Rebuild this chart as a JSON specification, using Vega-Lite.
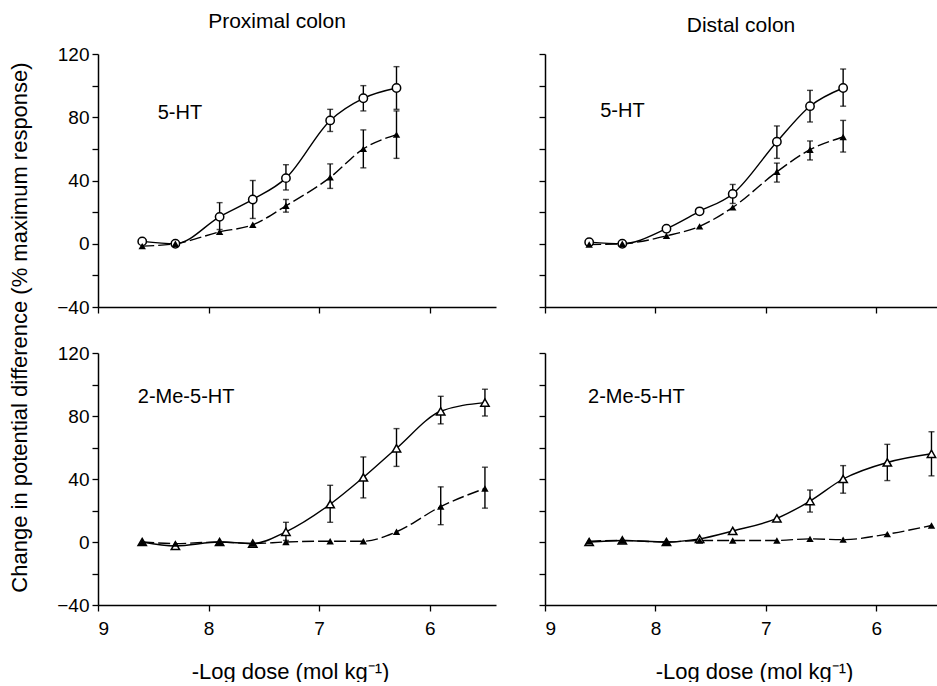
{
  "$schema": "https://vega.github.io/schema/vega-lite/v6.json",
  "background": "white",
  "padding": {"left": 8, "top": 11, "right": 0, "bottom": 0},
  "datasets": {
    "pts": [
      {"panel": "proximal_5HT", "group": "control", "dose": 8.6, "value": 1.5},
      {"panel": "proximal_5HT", "group": "control", "dose": 8.3, "value": 0},
      {"panel": "proximal_5HT", "group": "control", "dose": 7.9, "value": 17, "lo": 9, "hi": 26},
      {"panel": "proximal_5HT", "group": "control", "dose": 7.6, "value": 28, "lo": 16, "hi": 40},
      {"panel": "proximal_5HT", "group": "control", "dose": 7.3, "value": 41.5, "lo": 34, "hi": 50},
      {"panel": "proximal_5HT", "group": "control", "dose": 6.9, "value": 78, "lo": 71, "hi": 85},
      {"panel": "proximal_5HT", "group": "control", "dose": 6.6, "value": 92, "lo": 84, "hi": 100},
      {"panel": "proximal_5HT", "group": "control", "dose": 6.3, "value": 98.5, "lo": 85, "hi": 112},
      {"panel": "proximal_5HT", "group": "treated", "dose": 8.6, "value": -1.5},
      {"panel": "proximal_5HT", "group": "treated", "dose": 8.3, "value": 0},
      {"panel": "proximal_5HT", "group": "treated", "dose": 7.9, "value": 7.5},
      {"panel": "proximal_5HT", "group": "treated", "dose": 7.6, "value": 12},
      {"panel": "proximal_5HT", "group": "treated", "dose": 7.3, "value": 24, "lo": 20, "hi": 28},
      {"panel": "proximal_5HT", "group": "treated", "dose": 6.9, "value": 42, "lo": 35, "hi": 50.5},
      {"panel": "proximal_5HT", "group": "treated", "dose": 6.6, "value": 60, "lo": 48, "hi": 72},
      {"panel": "proximal_5HT", "group": "treated", "dose": 6.3, "value": 69, "lo": 54, "hi": 84},

      {"panel": "distal_5HT", "group": "control", "dose": 8.6, "value": 1},
      {"panel": "distal_5HT", "group": "control", "dose": 8.3, "value": 0},
      {"panel": "distal_5HT", "group": "control", "dose": 7.9, "value": 9.5},
      {"panel": "distal_5HT", "group": "control", "dose": 7.6, "value": 20.5},
      {"panel": "distal_5HT", "group": "control", "dose": 7.3, "value": 31.5, "lo": 25.5, "hi": 37.5},
      {"panel": "distal_5HT", "group": "control", "dose": 6.9, "value": 64.5, "lo": 54, "hi": 74.5},
      {"panel": "distal_5HT", "group": "control", "dose": 6.6, "value": 87, "lo": 77, "hi": 97},
      {"panel": "distal_5HT", "group": "control", "dose": 6.3, "value": 98.5, "lo": 87, "hi": 110.5},
      {"panel": "distal_5HT", "group": "treated", "dose": 8.6, "value": -0.5},
      {"panel": "distal_5HT", "group": "treated", "dose": 8.3, "value": 0},
      {"panel": "distal_5HT", "group": "treated", "dose": 7.9, "value": 5},
      {"panel": "distal_5HT", "group": "treated", "dose": 7.6, "value": 11},
      {"panel": "distal_5HT", "group": "treated", "dose": 7.3, "value": 23},
      {"panel": "distal_5HT", "group": "treated", "dose": 6.9, "value": 45.5, "lo": 39, "hi": 51},
      {"panel": "distal_5HT", "group": "treated", "dose": 6.6, "value": 59.5, "lo": 53, "hi": 65},
      {"panel": "distal_5HT", "group": "treated", "dose": 6.3, "value": 67.5, "lo": 58, "hi": 78},

      {"panel": "proximal_2Me", "group": "control", "dose": 8.6, "value": 0},
      {"panel": "proximal_2Me", "group": "control", "dose": 8.3, "value": -2.5},
      {"panel": "proximal_2Me", "group": "control", "dose": 7.9, "value": 0},
      {"panel": "proximal_2Me", "group": "control", "dose": 7.6, "value": -1},
      {"panel": "proximal_2Me", "group": "control", "dose": 7.3, "value": 6.5, "lo": 1, "hi": 12.5},
      {"panel": "proximal_2Me", "group": "control", "dose": 6.9, "value": 24, "lo": 12.5, "hi": 36},
      {"panel": "proximal_2Me", "group": "control", "dose": 6.6, "value": 41, "lo": 28, "hi": 54},
      {"panel": "proximal_2Me", "group": "control", "dose": 6.3, "value": 59.5, "lo": 48, "hi": 72},
      {"panel": "proximal_2Me", "group": "control", "dose": 5.9, "value": 83, "lo": 75, "hi": 92.5},
      {"panel": "proximal_2Me", "group": "control", "dose": 5.5, "value": 88.5, "lo": 80, "hi": 97},
      {"panel": "proximal_2Me", "group": "treated", "dose": 8.6, "value": 0},
      {"panel": "proximal_2Me", "group": "treated", "dose": 8.3, "value": -1},
      {"panel": "proximal_2Me", "group": "treated", "dose": 7.9, "value": 0},
      {"panel": "proximal_2Me", "group": "treated", "dose": 7.6, "value": -1},
      {"panel": "proximal_2Me", "group": "treated", "dose": 7.3, "value": 0},
      {"panel": "proximal_2Me", "group": "treated", "dose": 6.9, "value": 0.5},
      {"panel": "proximal_2Me", "group": "treated", "dose": 6.6, "value": 0.5},
      {"panel": "proximal_2Me", "group": "treated", "dose": 6.3, "value": 6.5},
      {"panel": "proximal_2Me", "group": "treated", "dose": 5.9, "value": 22.5, "lo": 11, "hi": 35},
      {"panel": "proximal_2Me", "group": "treated", "dose": 5.5, "value": 34, "lo": 21.5, "hi": 47.5},

      {"panel": "distal_2Me", "group": "control", "dose": 8.6, "value": 0},
      {"panel": "distal_2Me", "group": "control", "dose": 8.3, "value": 1},
      {"panel": "distal_2Me", "group": "control", "dose": 7.9, "value": 0},
      {"panel": "distal_2Me", "group": "control", "dose": 7.6, "value": 2},
      {"panel": "distal_2Me", "group": "control", "dose": 7.3, "value": 7},
      {"panel": "distal_2Me", "group": "control", "dose": 6.9, "value": 15},
      {"panel": "distal_2Me", "group": "control", "dose": 6.6, "value": 26, "lo": 19, "hi": 33},
      {"panel": "distal_2Me", "group": "control", "dose": 6.3, "value": 40, "lo": 31, "hi": 48.5},
      {"panel": "distal_2Me", "group": "control", "dose": 5.9, "value": 50.5, "lo": 39, "hi": 62},
      {"panel": "distal_2Me", "group": "control", "dose": 5.5, "value": 56, "lo": 42, "hi": 70},
      {"panel": "distal_2Me", "group": "treated", "dose": 8.6, "value": 0.5},
      {"panel": "distal_2Me", "group": "treated", "dose": 8.3, "value": 1},
      {"panel": "distal_2Me", "group": "treated", "dose": 7.9, "value": 0},
      {"panel": "distal_2Me", "group": "treated", "dose": 7.6, "value": 1},
      {"panel": "distal_2Me", "group": "treated", "dose": 7.3, "value": 1},
      {"panel": "distal_2Me", "group": "treated", "dose": 6.9, "value": 1},
      {"panel": "distal_2Me", "group": "treated", "dose": 6.6, "value": 2},
      {"panel": "distal_2Me", "group": "treated", "dose": 6.3, "value": 1.5},
      {"panel": "distal_2Me", "group": "treated", "dose": 5.9, "value": 5},
      {"panel": "distal_2Me", "group": "treated", "dose": 5.5, "value": 10.5}
    ]
  },
  "columns": 2,
  "spacing": {"row": 46, "column": 49},
  "bounds": "flush",
  "concat": [
    {
      "width": 398, "height": 253,
      "title": {"text": "Proximal colon", "dx": -20, "dy": -9, "fontSize": 21},
      "encoding": {
        "x": {"field": "dose", "type": "quantitative", "scale": {"domain": [5.4, 9], "reverse": true, "nice": false, "zero": false}, "axis": {"values": [9, 8, 7, 6], "labels": false, "title": null}},
        "y": {"field": "value", "type": "quantitative", "scale": {"domain": [-40, 120], "nice": false, "zero": false}, "axis": {"values": [-40, -20, 0, 20, 40, 60, 80, 100, 120], "format": "d", "labelExpr": "datum.value % 40 === 0 ? datum.label : ''", "title": "Change in potential difference (% maximum response)", "titleY": 273, "titlePadding": 25, "titleFontSize": 22}}
      },
      "layer": [
        {"data": {"name": "pts"}, "transform": [{"filter": "datum.panel === 'proximal_5HT' && datum.group === 'control'"}], "mark": {"type": "line", "interpolate": "monotone", "color": "black", "strokeWidth": 1.4}},
        {"data": {"name": "pts"}, "transform": [{"filter": "datum.panel === 'proximal_5HT' && datum.group === 'treated'"}], "mark": {"type": "line", "interpolate": "monotone", "color": "black", "strokeWidth": 1.4, "strokeDash": [12, 4]}},
        {"data": {"name": "pts"}, "transform": [{"filter": "datum.panel === 'proximal_5HT' && isValid(datum.lo)"}], "mark": {"type": "errorbar", "ticks": {"size": 6, "thickness": 1.4}, "thickness": 1.4, "color": "black"}, "encoding": {"y": {"field": "lo", "type": "quantitative", "scale": {"domain": [-40, 120], "nice": false, "zero": false}, "axis": {"values": [-40, -20, 0, 20, 40, 60, 80, 100, 120], "format": "d", "labelExpr": "datum.value % 40 === 0 ? datum.label : ''", "title": "Change in potential difference (% maximum response)", "titleY": 273, "titlePadding": 25, "titleFontSize": 22}}, "y2": {"field": "hi"}}},
        {"data": {"name": "pts"}, "transform": [{"filter": "datum.panel === 'proximal_5HT' && datum.group === 'control'"}], "mark": {"type": "point", "shape": "circle", "size": 70, "filled": true, "fill": "white", "stroke": "black", "strokeWidth": 1.5, "opacity": 1}},
        {"data": {"name": "pts"}, "transform": [{"filter": "datum.panel === 'proximal_5HT' && datum.group === 'treated'"}], "mark": {"type": "point", "shape": "triangle-up", "size": 55, "filled": true, "color": "black", "opacity": 1}},
        {"data": {"name": "pts"}, "transform": [{"filter": "datum.panel === 'proximal_5HT' && datum.group === 'control' && datum.dose === 8.6"}], "mark": {"type": "text", "text": "5-HT", "align": "left", "baseline": "middle", "fontSize": 20, "font": "Liberation Sans", "color": "black"}, "encoding": {"x": {"datum": 8.46, "type": "quantitative"}, "y": {"datum": 83, "type": "quantitative"}}}
      ]
    },
    {
      "width": 392, "height": 253,
      "title": {"text": "Distal colon", "dy": -13, "fontSize": 21},
      "encoding": {
        "x": {"field": "dose", "type": "quantitative", "scale": {"domain": [5.45, 9], "reverse": true, "nice": false, "zero": false}, "axis": {"values": [9, 8, 7, 6], "labels": false, "title": null}},
        "y": {"field": "value", "type": "quantitative", "scale": {"domain": [-40, 120], "nice": false, "zero": false}, "axis": {"values": [-40, -20, 0, 20, 40, 60, 80, 100, 120], "labels": false, "title": null}}
      },
      "layer": [
        {"data": {"name": "pts"}, "transform": [{"filter": "datum.panel === 'distal_5HT' && datum.group === 'control'"}], "mark": {"type": "line", "interpolate": "monotone", "color": "black", "strokeWidth": 1.4}},
        {"data": {"name": "pts"}, "transform": [{"filter": "datum.panel === 'distal_5HT' && datum.group === 'treated'"}], "mark": {"type": "line", "interpolate": "monotone", "color": "black", "strokeWidth": 1.4, "strokeDash": [12, 4]}},
        {"data": {"name": "pts"}, "transform": [{"filter": "datum.panel === 'distal_5HT' && isValid(datum.lo)"}], "mark": {"type": "errorbar", "ticks": {"size": 6, "thickness": 1.4}, "thickness": 1.4, "color": "black"}, "encoding": {"y": {"field": "lo", "type": "quantitative", "scale": {"domain": [-40, 120], "nice": false, "zero": false}, "axis": {"values": [-40, -20, 0, 20, 40, 60, 80, 100, 120], "labels": false, "title": null}}, "y2": {"field": "hi"}}},
        {"data": {"name": "pts"}, "transform": [{"filter": "datum.panel === 'distal_5HT' && datum.group === 'control'"}], "mark": {"type": "point", "shape": "circle", "size": 70, "filled": true, "fill": "white", "stroke": "black", "strokeWidth": 1.5, "opacity": 1}},
        {"data": {"name": "pts"}, "transform": [{"filter": "datum.panel === 'distal_5HT' && datum.group === 'treated'"}], "mark": {"type": "point", "shape": "triangle-up", "size": 55, "filled": true, "color": "black", "opacity": 1}},
        {"data": {"name": "pts"}, "transform": [{"filter": "datum.panel === 'distal_5HT' && datum.group === 'control' && datum.dose === 8.6"}], "mark": {"type": "text", "text": "5-HT", "align": "left", "baseline": "middle", "fontSize": 20, "font": "Liberation Sans", "color": "black"}, "encoding": {"x": {"datum": 8.5, "type": "quantitative"}, "y": {"datum": 84, "type": "quantitative"}}}
      ]
    },
    {
      "width": 398, "height": 252,
      "encoding": {
        "x": {"field": "dose", "type": "quantitative", "scale": {"domain": [5.4, 9], "reverse": true, "nice": false, "zero": false}, "axis": {"values": [9, 8, 7, 6], "format": "d", "title": "-Log dose (mol kg⁻¹)", "labelPadding": 8, "titlePadding": 23, "titleFontSize": 22, "titleX": 192}},
        "y": {"field": "value", "type": "quantitative", "scale": {"domain": [-40, 120], "nice": false, "zero": false}, "axis": {"values": [-40, -20, 0, 20, 40, 60, 80, 100, 120], "format": "d", "labelExpr": "datum.value % 40 === 0 ? datum.label : ''", "title": null}}
      },
      "layer": [
        {"data": {"name": "pts"}, "transform": [{"filter": "datum.panel === 'proximal_2Me' && datum.group === 'control'"}], "mark": {"type": "line", "interpolate": "monotone", "color": "black", "strokeWidth": 1.4}},
        {"data": {"name": "pts"}, "transform": [{"filter": "datum.panel === 'proximal_2Me' && datum.group === 'treated'"}], "mark": {"type": "line", "interpolate": "monotone", "color": "black", "strokeWidth": 1.4, "strokeDash": [12, 4]}},
        {"data": {"name": "pts"}, "transform": [{"filter": "datum.panel === 'proximal_2Me' && isValid(datum.lo)"}], "mark": {"type": "errorbar", "ticks": {"size": 6, "thickness": 1.4}, "thickness": 1.4, "color": "black"}, "encoding": {"y": {"field": "lo", "type": "quantitative", "scale": {"domain": [-40, 120], "nice": false, "zero": false}, "axis": {"values": [-40, -20, 0, 20, 40, 60, 80, 100, 120], "format": "d", "labelExpr": "datum.value % 40 === 0 ? datum.label : ''", "title": null}}, "y2": {"field": "hi"}}},
        {"data": {"name": "pts"}, "transform": [{"filter": "datum.panel === 'proximal_2Me' && datum.group === 'control'"}], "mark": {"type": "point", "shape": "triangle-up", "size": 70, "filled": true, "fill": "white", "stroke": "black", "strokeWidth": 1.5, "opacity": 1}},
        {"data": {"name": "pts"}, "transform": [{"filter": "datum.panel === 'proximal_2Me' && datum.group === 'treated'"}], "mark": {"type": "point", "shape": "triangle-up", "size": 55, "filled": true, "color": "black", "opacity": 1}},
        {"data": {"name": "pts"}, "transform": [{"filter": "datum.panel === 'proximal_2Me' && datum.group === 'control' && datum.dose === 8.6"}], "mark": {"type": "text", "align": "left", "baseline": "middle", "fontSize": 20, "font": "Liberation Sans", "color": "black"}, "encoding": {"x": {"datum": 8.64, "type": "quantitative"}, "y": {"datum": 92, "type": "quantitative"}, "text": {"value": "2-Me-5-HT"}}}
      ]
    },
    {
      "width": 392, "height": 252,
      "encoding": {
        "x": {"field": "dose", "type": "quantitative", "scale": {"domain": [5.45, 9], "reverse": true, "nice": false, "zero": false}, "axis": {"values": [9, 8, 7, 6], "format": "d", "title": "-Log dose (mol kg⁻¹)", "labelPadding": 8, "titlePadding": 23, "titleFontSize": 22, "titleX": 209}},
        "y": {"field": "value", "type": "quantitative", "scale": {"domain": [-40, 120], "nice": false, "zero": false}, "axis": {"values": [-40, -20, 0, 20, 40, 60, 80, 100, 120], "labels": false, "title": null}}
      },
      "layer": [
        {"data": {"name": "pts"}, "transform": [{"filter": "datum.panel === 'distal_2Me' && datum.group === 'control'"}], "mark": {"type": "line", "interpolate": "monotone", "color": "black", "strokeWidth": 1.4}},
        {"data": {"name": "pts"}, "transform": [{"filter": "datum.panel === 'distal_2Me' && datum.group === 'treated'"}], "mark": {"type": "line", "interpolate": "monotone", "color": "black", "strokeWidth": 1.4, "strokeDash": [12, 4]}},
        {"data": {"name": "pts"}, "transform": [{"filter": "datum.panel === 'distal_2Me' && isValid(datum.lo)"}], "mark": {"type": "errorbar", "ticks": {"size": 6, "thickness": 1.4}, "thickness": 1.4, "color": "black"}, "encoding": {"y": {"field": "lo", "type": "quantitative", "scale": {"domain": [-40, 120], "nice": false, "zero": false}, "axis": {"values": [-40, -20, 0, 20, 40, 60, 80, 100, 120], "labels": false, "title": null}}, "y2": {"field": "hi"}}},
        {"data": {"name": "pts"}, "transform": [{"filter": "datum.panel === 'distal_2Me' && datum.group === 'control'"}], "mark": {"type": "point", "shape": "triangle-up", "size": 70, "filled": true, "fill": "white", "stroke": "black", "strokeWidth": 1.5, "opacity": 1}},
        {"data": {"name": "pts"}, "transform": [{"filter": "datum.panel === 'distal_2Me' && datum.group === 'treated'"}], "mark": {"type": "point", "shape": "triangle-up", "size": 55, "filled": true, "color": "black", "opacity": 1}},
        {"data": {"name": "pts"}, "transform": [{"filter": "datum.panel === 'distal_2Me' && datum.group === 'control' && datum.dose === 8.6"}], "mark": {"type": "text", "align": "left", "baseline": "middle", "fontSize": 20, "font": "Liberation Sans", "color": "black"}, "encoding": {"x": {"datum": 8.61, "type": "quantitative"}, "y": {"datum": 92, "type": "quantitative"}, "text": {"value": "2-Me-5-HT"}}}
      ]
    }
  ],
  "config": {
    "view": {"stroke": null},
    "font": "Liberation Sans",
    "axis": {"domainColor": "black", "domainWidth": 1.5, "tickColor": "black", "tickWidth": 1.3, "tickSize": 6, "labelColor": "black", "labelFontSize": 19, "labelFont": "Liberation Sans", "titleFont": "Liberation Sans", "titleFontSize": 20, "titleFontWeight": "normal", "titleColor": "black", "grid": false, "labelPadding": 3},
    "title": {"fontSize": 20, "fontWeight": "normal", "font": "Liberation Sans", "color": "black", "anchor": "middle"}
  }
}
